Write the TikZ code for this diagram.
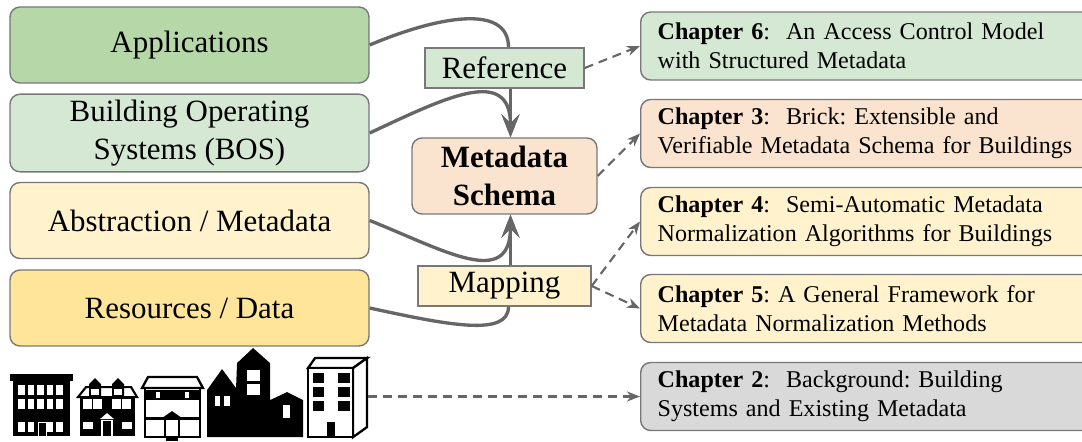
\documentclass[tikz,border=0pt]{standalone}
\usepackage{fontspec}
\setmainfont{Liberation Serif}
\frenchspacing
\definecolor{appgreen}{RGB}{182,215,168}
\definecolor{bosgreen}{RGB}{213,232,212}
\definecolor{schemaorange}{RGB}{251,228,207}
\definecolor{metayellow}{RGB}{255,242,204}
\definecolor{datayellow}{RGB}{255,229,153}
\definecolor{bggray}{RGB}{217,217,217}
\definecolor{edgegray}{RGB}{102,102,102}
\definecolor{rimgray}{RGB}{120,120,120}
\usepackage{tikz}
\usetikzlibrary{arrows.meta}

\begin{document}
\begin{tikzpicture}[
  layer/.style={draw=rimgray, line width=0.8pt, rounded corners=0.2cm, minimum width=7.18cm, minimum height=1.52cm, align=center, font=\fontsize{17.6}{21.5}\selectfont},
  tag/.style={draw=rimgray, line width=0.8pt, minimum height=0.8cm, align=center, font=\fontsize{17.6}{21.5}\selectfont},
  chap/.style={draw=rimgray, line width=0.8pt, rounded corners=0.2cm, anchor=west, text width=8.8cm, inner xsep=0.34cm, minimum height=1.36cm, align=left, font=\fontsize{13.7}{16.6}\selectfont},
  feed/.style={draw=edgegray, line width=1.9pt, -{Stealth[length=0.46cm, width=0.36cm, inset=0.18cm]}},
  link/.style={draw=edgegray, line width=1.9pt},
  pointer/.style={draw=edgegray, line width=1.2pt, dash pattern=on 0.18cm off 0.12cm, -{Stealth[length=0.26cm, width=0.2cm, inset=0.08cm]}}
]
  \clip (0,0) rectangle (21.64,-8.84);

  % layers
  \node[layer, fill=appgreen] (app) at (3.79,-0.90) {Applications};
  \node[layer, fill=bosgreen] (bos) at (3.79,-2.66) {Building Operating\\Systems (BOS)};
  \node[layer, fill=metayellow] (abst) at (3.79,-4.41) {Abstraction / Metadata};
  \node[layer, fill=datayellow] (res) at (3.79,-6.16) {Resources / Data};

  \node[tag, fill=bosgreen, minimum width=3.18cm] (ref) at (10.09,-1.36) {Reference};
  \node[tag, fill=schemaorange, rounded corners=0.2cm, minimum width=3.7cm, minimum height=1.52cm, font=\fontsize{17.6}{21.5}\selectfont\bfseries] (schema) at (10.09,-3.52) {Metadata\\Schema};
  \node[tag, fill=metayellow, minimum width=3.46cm] (map) at (10.09,-5.72) {Mapping};

  % chapters
  \node[chap, fill=bosgreen] (ch6) at (12.8,-0.92) {\textbf{Chapter 6}:~ An Access Control Model\\with Structured Metadata};
  \node[chap, fill=schemaorange] (ch3) at (12.8,-2.67) {\textbf{Chapter 3}:~ Brick: Extensible and\\Verifiable Metadata Schema for Buildings};
  \node[chap, fill=metayellow] (ch4) at (12.8,-4.43) {\textbf{Chapter 4}:~ Semi-Automatic Metadata\\Normalization Algorithms for Buildings};
  \node[chap, fill=metayellow] (ch5) at (12.8,-6.17) {\textbf{Chapter 5}: A General Framework for\\Metadata Normalization Methods};
  \node[chap, fill=bggray] (ch2) at (12.8,-7.93) {\textbf{Chapter 2}:~ Background: Building\\Systems and Existing Metadata};

  % buildings
  \begin{scope}[x=0.02cm, y=-0.02cm]
    \fill (10,374) rectangle (73,381);
    \fill (13,381) rectangle (70,436);
    \foreach \c in {0,...,4} {
      \fill[white] ({18+9.5*\c},385) rectangle +(6.5,10);
      \fill[white] ({18+9.5*\c},399) rectangle +(6.5,10);
    }
    \foreach \c in {0,1,3,4}
      \fill[white] ({18+9.5*\c},422) rectangle +(6.5,10);
    \draw[white, line width=0.8pt] (38.5,436) |- (46.5,422.5) -- (46.5,436);

    \fill (80,397) rectangle (135,436);
    \draw[line width=1.2pt, fill=white] (78,397) -- (86,387) -- (131,387) -- (137,397) -- cycle;
    \foreach \d in {95,118} {
      \fill (\d-6,397) -- (\d-6,384) -- (\d,378) -- (\d+6,384) -- (\d+6,397) -- cycle;
      \fill[white] (\d-4,389) rectangle (\d+4,395);
    }
    \foreach \x in {83,93,112,122}
      \fill[white] (\x,399) rectangle +(8.5,10);
    \fill[white] (83,422) rectangle (93,429);
    \fill[white] (122,422) rectangle (132,429);
    \fill[white] (100,419) -- (107,413) -- (114,419) -- cycle;
    \draw[white, line width=1pt] (102,436) |- (112,420.5) -- (112,436);

    \draw[line width=1.3pt, fill=white] (142,388) -- (148,377) -- (197,377) -- (203,388) -- cycle;
    \draw[line width=1.3pt] (145,388) rectangle (200,437);
    \fill (145,390) rectangle (200,400);
    \fill[white] (156,392) rectangle (160,398);
    \fill[white] (185,392) rectangle (189,398);
    \fill (145,417) rectangle (200,420);
    \fill (162,418) -- (172,411) -- (182,418) -- cycle;
    \draw[line width=1.2pt, fill=white] (165,419) rectangle (179,437);
    \fill (166,437) rectangle (178,441);

    \fill (207,437) -- (207,390) -- (222,369) -- (236,388) -- (237,363) -- (253,348) -- (270,363) -- (270,400) -- (287,392) -- (303,400) -- (303,437) -- cycle;
    \fill[white] (247,370) rectangle (260,381);
    \fill[white] (247,384) rectangle (260,395);
    \fill[white] (215,396) rectangle (220,406);
    \fill[white] (224,396) rectangle (230,406);
    \fill[white] (283,405) rectangle (290,418);

    \draw[line width=1.3pt, fill=white] (308,368) -- (315,358) -- (367,358) -- (353,368) -- cycle;
    \draw[line width=1.3pt, fill=white] (353,368) -- (367,358) -- (367,427) -- (353,437) -- cycle;
    \draw[line width=1.6pt, fill=white] (308,368) rectangle (353,437);
    \foreach \y in {373,387,401} {
      \fill (313,\y) rectangle +(11,10);
      \fill (338,\y) rectangle +(12,10);
    }
    \fill (327,422) rectangle (335,437);
  \end{scope}
  \coordinate (town) at (7.36,-7.93);

  % flows into the schema
  \draw[link] (app.east) .. controls +(1.3,0.55) and +(0,0.9) .. ([xshift=0.08cm]ref.north);
  \draw[feed] ([xshift=0.12cm]ref.south) -- ([xshift=0.12cm]schema.north);
  \draw[feed] (bos.east) .. controls +(1.5,0.7) and +(0,1.45) .. ([xshift=0.12cm]schema.north);
  \draw[feed] (abst.east) .. controls +(1.5,-0.6) and +(0,-1.5) .. ([xshift=0.12cm]schema.south);
  \draw[feed] ([xshift=0.12cm]map.north) -- ([xshift=0.12cm]schema.south);
  \draw[link] (res.east) .. controls +(1.6,-0.35) and +(0,-0.6) .. ([xshift=0.08cm]map.south);

  % chapter pointers
  \draw[pointer] (ref.east) -- (ch6.west);
  \draw[pointer] (schema.east) -- (ch3.west);
  \draw[pointer] (map.east) -- (ch4.west);
  \draw[pointer] (map.east) -- (ch5.west);
  \draw[pointer] (town) -- (ch2.west);
\end{tikzpicture}
\end{document}
